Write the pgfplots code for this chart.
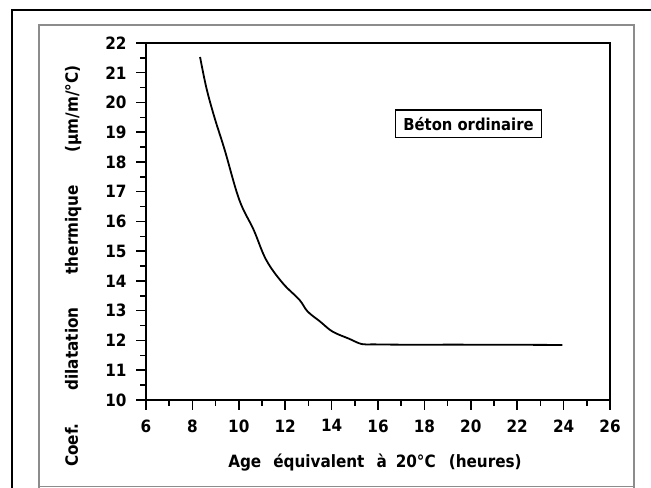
\documentclass[border=0pt]{standalone}
\usepackage{pgfplots}
\pgfplotsset{compat=1.18}
\usepackage{fontspec}
\setmainfont{DejaVu Sans Condensed}
\begin{document}
\begin{tikzpicture}[x=1bp,y=1bp]
\useasboundingbox (0,0) rectangle (651,488);
\clip (0,0) rectangle (651,488);
\fill[white] (0,0) rectangle (651,488);
\draw[black, line width=2bp] (12,-10) -- (12,478) -- (660,478);
\draw[black!45, line width=1.2bp] (39,-5) -- (39,463) -- (634,463) -- (634,-5);
\draw[black!45, line width=1bp] (39,1) -- (634,1);
\begin{axis}[
  at={(146bp,88bp)}, anchor=south west,
  scale only axis, width=464bp, height=357bp,
  xmin=6, xmax=26, ymin=10, ymax=22,
  xtick={6,8,...,26}, ytick={10,11,...,22},
  minor x tick num=1, minor y tick num=1,
  tick align=outside, tick pos=left,
  major tick length=10bp, minor tick length=6bp,
  axis line style={line width=1.6bp},
  every tick/.style={black, line width=1.5bp},
  /pgf/number format/assume math mode=true,
  ticklabel style={font=\fontsize{17}{19}\selectfont\bfseries},
  xticklabel style={yshift=-6bp},
  yticklabel style={xshift=-6bp},
  xlabel={Age\hspace{12bp}équivalent\hspace{12bp}à\hspace{9bp}20°C\hspace{13bp}(heures)},
  ylabel={Coef.\hspace{33bp}dilatation\hspace{33bp}thermique\hspace{33bp}(µm/m/°C)},
  every axis x label/.style={at={(axis description cs:0.4935,-0.176)}, anchor=center, font=\fontsize{17}{19}\selectfont\bfseries},
  every axis y label/.style={at={(axis description cs:-0.157,0.375)}, anchor=center, rotate=90, font=\fontsize{17}{19}\selectfont\bfseries},
  clip=false,
]
\addplot[black, line width=1.8bp, smooth, tension=0.6] coordinates {
(8.33,21.53) (8.6,20.5) (8.95,19.5) (9.39,18.41) (10.02,16.73)
(10.64,15.72) (11.18,14.71) (11.89,13.93) (12.61,13.37) (12.96,12.98)
(13.5,12.64) (14.04,12.30) (14.75,12.06) (15.3,11.88) (15.82,11.87)
(17,11.86) (20,11.86) (23.95,11.85)
};
\node[draw, line width=1.5bp, inner xsep=8bp, inner ysep=7bp, font=\fontsize{16.5}{18}\selectfont\bfseries] at (axis cs:19.9,19.29) {Béton ordinaire};
\end{axis}
\end{tikzpicture}
\end{document}
